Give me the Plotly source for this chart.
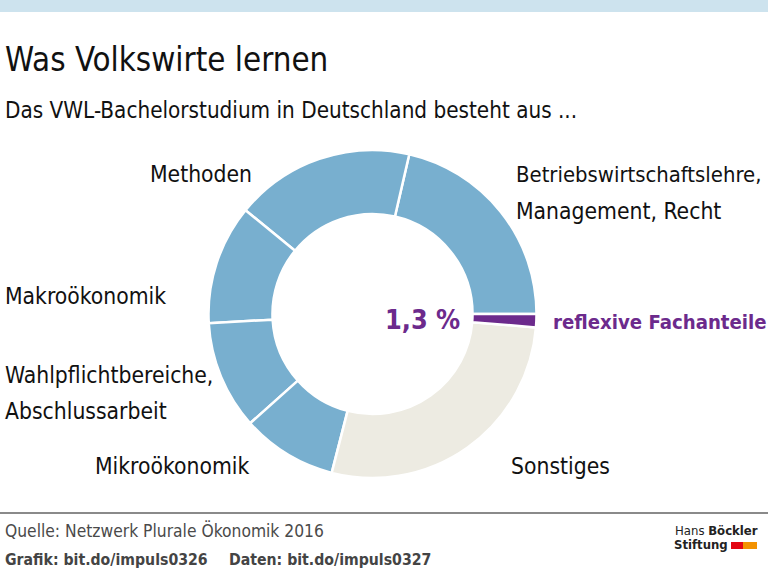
import plotly.graph_objects as go

W, H = 768, 581

categories = ["Betriebswirtschaftslehre, Management, Recht", "Methoden", "Makroökonomik",
              "Wahlpflichtbereiche, Abschlussarbeit", "Mikroökonomik", "Sonstiges",
              "reflexive Fachanteile"]
shares = [21.4, 17.7, 11.8, 10.7, 9.4, 27.7, 1.3]
slice_colors = ["#78AFCF", "#78AFCF", "#78AFCF", "#78AFCF", "#78AFCF", "#EDEBE2", "#6C2A8C"]

title = "Was Volkswirte lernen"
subtitle = "Das VWL-Bachelorstudium in Deutschland besteht aus ..."
source = "Quelle: Netzwerk Plurale Ökonomik 2016"
link_grafik = "<b>Grafik: bit.do/impuls0326</b>"
link_daten = "<b>Daten: bit.do/impuls0327</b>"

FONT = "DejaVu Sans Condensed, Liberation Sans Narrow, Roboto, sans-serif"

cx, cy, r = 372.5, 314, 164

# first slice (counterclockwise) must start at 3 o'clock
rot = 90 - 360 * shares[0] / sum(shares)

fig = go.Figure(go.Pie(
    labels=categories, values=shares, sort=False, direction="counterclockwise",
    rotation=rot, hole=0.61, textinfo="none", hoverinfo="label+percent",
    marker=dict(colors=slice_colors, line=dict(color="white", width=2.5)),
    domain=dict(x=[(cx - r) / W, (cx + r) / W], y=[(H - cy - r) / H, (H - cy + r) / H]),
    showlegend=False,
))

def px(x):
    return x / W

def py(y):
    return 1 - y / H

ann = []
def add(text, x, y, size=22.7, color="#111111", xanchor="left", yanchor="middle"):
    ann.append(dict(text=text, x=px(x), y=py(y), xref="paper", yref="paper",
                    xanchor=xanchor, yanchor=yanchor, showarrow=False,
                    font=dict(family=FONT, size=size, color=color), align="left"))

add(title, 3, 60, size=32.8)
add(subtitle, 3, 110, size=22.3)
add("Methoden", 148, 174)
add("Betriebswirtschaftslehre,", 514, 174, size=21.9)
add("Management, Recht", 514, 211)
add("Makroökonomik", 3, 296)
add("Wahlpflichtbereiche,", 3, 375)
add("Abschlussarbeit", 3, 411)
add("Mikroökonomik", 93, 466)
add("Sonstiges", 509, 466)
add("<b>1,3 %</b>", 383, 319, size=26.8, color="#6C2A8C")
add("<b>reflexive Fachanteile</b>", 551, 322, size=20.2, color="#6C2A8C")
add(source, 3, 530, size=17.3, color="#4A4A4A")
add(link_grafik, 3, 559, size=15.7, color="#444444")
add(link_daten, 227, 559, size=15.7, color="#444444")
add("Hans <b>Böckler</b>", 760, 530, size=13, color="#222222", xanchor="right")
add("<b>Stiftung</b>", 672, 544, size=13, color="#222222")

shapes = [
    dict(type="rect", xref="paper", yref="paper", x0=0, x1=1, y0=py(12), y1=1,
         fillcolor="#CDE3EE", line=dict(width=0)),
    dict(type="line", xref="paper", yref="paper", x0=0, x1=1, y0=py(513), y1=py(513),
         line=dict(color="#8A8A8A", width=2)),
    dict(type="rect", xref="paper", yref="paper", x0=px(731), x1=px(743), y0=py(549), y1=py(542),
         fillcolor="#E30613", line=dict(width=0)),
    dict(type="rect", xref="paper", yref="paper", x0=px(743), x1=px(757), y0=py(549), y1=py(542),
         fillcolor="#F39200", line=dict(width=0)),
]

fig.update_layout(width=W, height=H, margin=dict(l=0, r=0, t=0, b=0),
                  paper_bgcolor="white", plot_bgcolor="white",
                  annotations=ann, shapes=shapes)

fig.write_html("out.html", config={"displayModeBar": False},
               post_script="document.body.style.margin='0';")
